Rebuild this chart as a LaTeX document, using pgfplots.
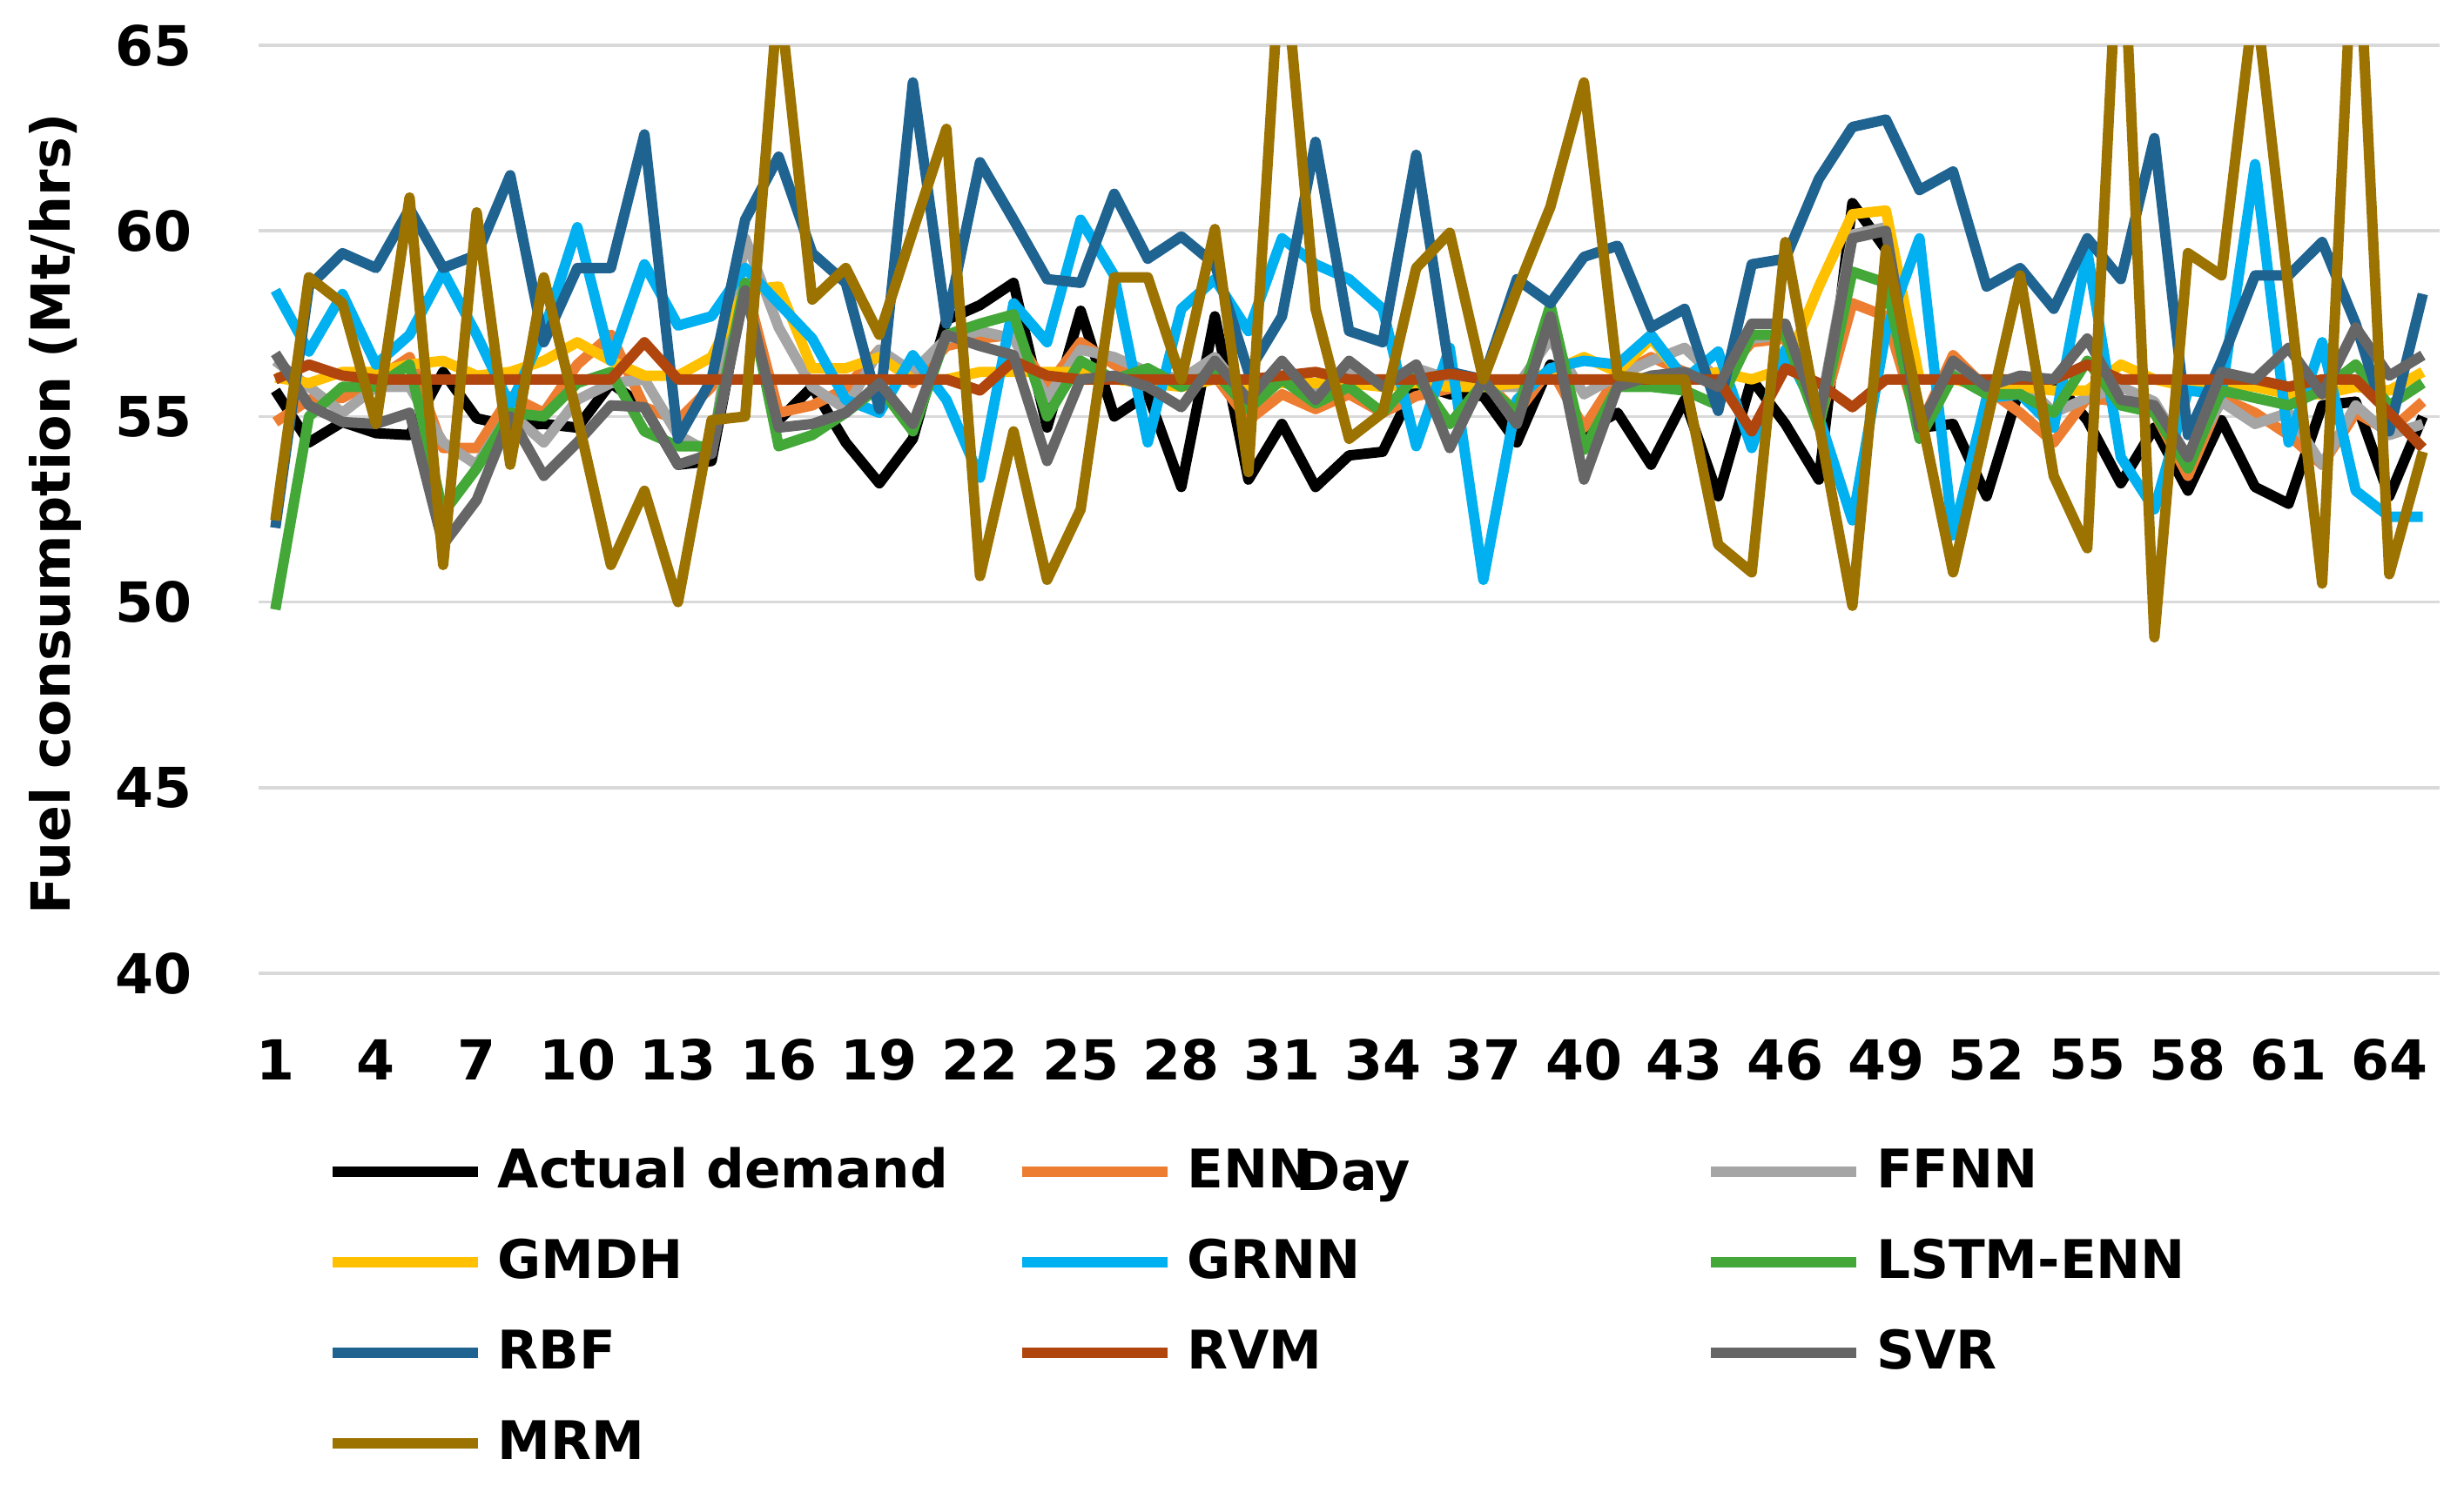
\documentclass[border=0pt]{standalone}
\usepackage{fontspec}
\setmainfont{DejaVu Sans}
\usepackage{pgfplots}
\usepackage{pgfplotstable}
\pgfplotsset{compat=1.18}

\definecolor{cENN}{HTML}{ED7D31}
\definecolor{cFFNN}{HTML}{A5A5A5}
\definecolor{cGMDH}{HTML}{FFC000}
\definecolor{cGRNN}{HTML}{00B0F0}
\definecolor{cLSTM}{HTML}{43A838}
\definecolor{cRBF}{HTML}{1F6391}
\definecolor{cRVM}{HTML}{B0450E}
\definecolor{cSVR}{HTML}{666666}
\definecolor{cMRM}{HTML}{9C7300}
\definecolor{gridgray}{HTML}{D9D9D9}

% day, actual demand and the nine models (Mt/hrs)
\pgfplotstableread{
day actual enn ffnn gmdh grnn lstm rbf rvm svr mrm
1 55.7 54.85 56.5 56.05 58.4 49.8 52.0 56.0 56.7 52.2
2 54.3 55.45 55.8 55.9 56.75 55.0 58.5 56.4 55.3 58.75
3 54.85 55.5 55.1 56.2 58.3 55.8 59.4 56.1 54.85 58.05
4 54.55 56.0 55.8 56.2 56.4 55.8 59.0 56.0 54.8 54.8
5 54.5 56.6 55.8 56.4 57.2 56.4 60.6 56.0 55.1 60.9
6 56.2 54.15 54.3 56.5 58.9 52.4 59.0 56.0 51.55 51.0
7 54.95 54.15 53.7 56.1 57.2 53.6 59.35 56.0 52.75 60.5
8 54.75 55.55 55.1 56.2 55.3 55.1 61.5 56.0 55.0 53.7
9 54.8 55.1 54.3 56.5 57.3 55.0 57.0 56.0 53.4 58.75
10 54.7 56.4 55.45 57.0 60.1 55.9 59.0 56.0 54.3 55.0
11 55.9 57.2 55.9 56.5 56.5 56.2 59.0 56.0 55.3 51.0
12 55.25 55.25 56.0 56.1 59.1 54.6 62.6 57.0 55.25 53.0
13 53.7 54.9 54.5 56.1 57.45 54.2 54.4 56.0 53.7 50.0
14 53.8 55.8 54.0 56.6 57.7 54.2 56.0 56.0 54.0 54.9
15 58.6 58.6 59.8 58.4 59.0 58.6 60.3 56.0 58.4 55.0
16 54.9 55.1 57.4 58.5 58.05 54.2 62.0 56.0 54.7 66.5
17 55.8 55.3 55.8 56.3 57.1 54.5 59.4 56.0 54.8 58.15
18 54.3 55.75 55.2 56.3 55.45 55.1 58.6 56.0 55.1 59.0
19 53.2 56.8 56.8 56.6 55.1 55.8 55.2 56.0 55.9 57.2
20 54.4 55.9 56.2 56.0 56.65 54.6 64.0 56.0 54.8 60.0
21 57.6 56.9 57.1 56.0 55.45 57.2 57.5 56.0 57.2 62.75
22 58.0 57.1 57.3 56.2 53.35 57.5 61.85 55.7 56.9 50.7
23 58.6 57.2 57.1 56.2 58.05 57.75 60.3 56.5 56.65 54.6
24 54.7 55.8 55.5 56.2 57.0 55.0 58.7 56.1 53.8 50.6
25 57.85 57.0 56.8 56.2 60.3 56.5 58.6 56.0 56.0 52.5
26 55.0 56.4 56.6 56.0 58.8 56.0 61.0 56.0 56.1 58.75
27 55.6 56.0 56.2 55.9 54.3 56.3 59.25 56.0 55.8 58.75
28 53.1 55.8 56.0 55.8 57.9 55.8 59.85 56.0 55.25 56.0
29 57.7 56.1 56.6 56.0 58.7 56.2 59.1 56.0 56.5 60.05
30 53.3 54.9 55.45 55.8 57.3 55.2 56.2 56.0 55.45 53.5
31 54.8 55.6 56.1 55.9 59.8 56.0 57.7 56.1 56.5 68.0
32 53.1 55.2 55.6 55.9 59.1 55.35 62.4 56.2 55.45 57.9
33 53.95 55.6 56.3 55.9 58.7 55.8 57.3 56.0 56.5 54.4
34 54.05 55.1 55.8 55.8 57.9 55.1 57.0 56.0 55.8 55.1
35 55.9 55.55 56.3 55.9 54.2 56.1 62.05 56.0 56.4 59.0
36 55.6 55.75 56.0 55.8 56.85 54.8 56.2 56.15 54.15 59.95
37 55.55 56.0 55.8 55.8 50.6 55.9 56.0 56.0 56.0 56.0
38 54.3 55.1 55.8 55.9 55.45 55.1 58.7 56.0 54.8 58.4
39 56.4 56.3 57.1 56.2 56.3 58.0 58.05 56.0 57.7 60.65
40 54.6 54.7 55.6 56.6 56.5 54.1 59.3 56.0 53.3 64.0
41 55.1 56.1 56.1 56.2 56.4 55.8 59.6 56.0 55.8 56.1
42 53.7 56.6 56.5 57.1 57.2 55.8 57.4 56.0 56.1 56.0
43 55.45 56.2 56.85 56.0 56.0 55.7 57.9 56.0 56.2 56.0
44 52.85 56.0 56.0 56.2 56.75 55.3 55.15 56.0 55.8 51.55
45 56.0 57.0 57.1 56.0 54.15 57.2 59.1 54.6 57.5 50.8
46 54.8 57.1 57.2 56.3 56.8 57.2 59.25 56.3 57.5 59.7
47 53.3 54.8 55.0 58.5 55.0 54.7 61.4 55.9 54.9 54.8
48 60.75 58.05 59.9 60.45 52.2 58.9 62.8 55.25 59.8 49.9
49 59.5 57.7 60.1 60.55 57.3 58.6 63.0 56.0 60.0 59.5
50 54.7 54.7 54.7 56.0 59.8 54.4 61.1 56.0 54.7 55.2
51 54.8 56.65 56.2 56.0 51.8 56.1 61.6 56.0 56.5 50.8
52 52.85 55.75 55.8 55.8 55.5 55.6 58.5 56.0 55.8 54.8
53 55.8 55.1 56.0 55.8 55.6 55.6 59.0 56.0 56.1 58.8
54 56.0 54.3 55.1 55.7 54.7 55.1 57.9 56.0 56.0 53.4
55 54.9 55.5 55.5 55.7 59.45 56.5 59.8 56.4 57.1 51.45
56 53.2 55.4 55.8 56.4 53.9 55.3 58.7 56.0 55.45 69.5
57 54.7 55.1 55.4 56.0 52.5 55.1 62.5 56.0 55.3 49.05
58 53.0 53.4 53.9 55.8 55.7 53.6 54.5 56.0 53.9 59.4
59 54.9 55.5 55.4 55.9 55.6 55.7 56.5 56.0 56.2 58.8
60 53.1 55.1 54.8 55.8 61.8 55.5 58.8 56.0 56.0 66.4
61 52.65 54.5 55.1 55.6 54.3 55.3 58.8 55.8 56.85 58.4
62 55.3 53.7 53.7 55.6 57.0 55.7 59.7 56.0 55.6 50.5
63 55.4 55.1 55.3 55.8 53.0 56.4 57.5 56.0 57.4 69.5
64 52.85 54.6 54.5 55.7 52.3 55.3 54.6 55.1 56.1 50.75
65 55.0 55.4 54.8 56.2 52.3 55.9 58.3 54.15 56.65 54.05
}\fueldata

\newcommand{\chartfont}{\bfseries\fontsize{9}{11}\selectfont}
\newcommand{\legfont}{\bfseries\fontsize{8.7}{11}\selectfont}
\newcommand{\labfont}{\bfseries\fontsize{8.8}{11}\selectfont}

\begin{document}
\begin{tikzpicture}
\useasboundingbox (-1.485,-2.94) rectangle (12.665,5.59);
\begin{axis}[
    at={(0,0)}, anchor=south west,
    scale only axis,
    width=12.525cm, height=5.33cm,
    xmin=0.5, xmax=65.5,
    ymin=40, ymax=65,
    xtick={1,4,...,64},
    ytick={40,45,...,65},
    ymajorgrids,
    grid style={line width=0.5pt, gridgray},
    axis line style={draw=none},
    major tick length=0pt,
    /pgf/number format/assume math mode=true,
    tick label style={font=\chartfont},
    xticklabel style={anchor=center, yshift=-14.1pt},
    yticklabel style={anchor=east, xshift=-7.4pt},
    label style={font=\labfont},
    xlabel={Day},
    xlabel style={at={(axis description cs:0.502,-0.2195)}, anchor=center},
    ylabel={Fuel consumption (Mt/hrs)},
    ylabel style={at={(axis description cs:-0.0934,0.495)}, anchor=center},
    legend columns=3,
    legend style={draw=none, fill=none, at={(axis description cs:0.0315,-0.1650)},
        anchor=north west, inner sep=0pt, outer sep=0pt,
        nodes={inner xsep=2.4pt, inner ysep=0pt, text height=10pt, text depth=4.8pt, font=\legfont},
        cells={anchor=west}},
    legend image code/.code={\draw[#1, line width=1.7pt] (0cm,0cm) -- (0.835cm,0cm);},
    every axis plot/.append style={line width=1.7pt, line join=round, no markers},
]
\addplot[black] table[x=day, y=actual] {\fueldata};
\addlegendentry{\makebox[2.895cm][l]{Actual demand}}
\addplot[cENN] table[x=day, y=enn] {\fueldata};
\addlegendentry{\makebox[2.895cm][l]{ENN}}
\addplot[cFFNN] table[x=day, y=ffnn] {\fueldata};
\addlegendentry{\makebox[2.895cm][l]{FFNN}}
\addplot[cGMDH] table[x=day, y=gmdh] {\fueldata};
\addlegendentry{\makebox[2.895cm][l]{GMDH}}
\addplot[cGRNN] table[x=day, y=grnn] {\fueldata};
\addlegendentry{\makebox[2.895cm][l]{GRNN}}
\addplot[cLSTM] table[x=day, y=lstm] {\fueldata};
\addlegendentry{\makebox[2.895cm][l]{LSTM-ENN}}
\addplot[cRBF] table[x=day, y=rbf] {\fueldata};
\addlegendentry{\makebox[2.895cm][l]{RBF}}
\addplot[cRVM] table[x=day, y=rvm] {\fueldata};
\addlegendentry{\makebox[2.895cm][l]{RVM}}
\addplot[cSVR] table[x=day, y=svr] {\fueldata};
\addlegendentry{\makebox[2.895cm][l]{SVR}}
\addplot[cMRM] table[x=day, y=mrm] {\fueldata};
\addlegendentry{\makebox[2.895cm][l]{MRM}}
\end{axis}
\end{tikzpicture}
\end{document}
